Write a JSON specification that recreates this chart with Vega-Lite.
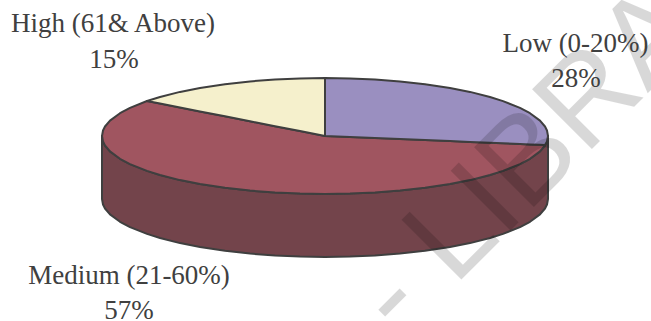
{
  "$schema": "https://vega.github.io/schema/vega-lite/v6.json",
  "width": 651,
  "height": 321,
  "autosize": {"type": "none"},
  "padding": 0,
  "background": "#ffffff",
  "view": {"stroke": null},
  "datasets": {
    "outline": [
      {"part":"wall","x":102,"y":136,"y2":199},{"part":"wall","x":103,"y":141.5,"y2":204.5},{"part":"wall","x":105,"y":145.5,"y2":208.5},{"part":"wall","x":110,"y":151.4,"y2":214.4},{"part":"wall","x":120,"y":158.8,"y2":221.8},{"part":"wall","x":130,"y":164.1,"y2":227.1},{"part":"wall","x":147,"y":170.9,"y2":233.9},{"part":"wall","x":160,"y":175,"y2":238},{"part":"wall","x":180,"y":180.1,"y2":243.1},{"part":"wall","x":200,"y":184,"y2":247},{"part":"wall","x":225,"y":187.8,"y2":250.8},{"part":"wall","x":250,"y":190.6,"y2":253.6},{"part":"wall","x":275,"y":192.5,"y2":255.5},{"part":"wall","x":300,"y":193.6,"y2":256.6},{"part":"wall","x":325,"y":194,"y2":257},{"part":"wall","x":350,"y":193.6,"y2":256.6},{"part":"wall","x":375,"y":192.5,"y2":255.5},{"part":"wall","x":400,"y":190.6,"y2":253.6},{"part":"wall","x":425,"y":187.8,"y2":250.8},{"part":"wall","x":450,"y":184,"y2":247},{"part":"wall","x":470,"y":180.1,"y2":243.1},{"part":"wall","x":490,"y":175,"y2":238},{"part":"wall","x":503,"y":170.9,"y2":233.9},{"part":"wall","x":520,"y":164.1,"y2":227.1},{"part":"wall","x":530,"y":158.8,"y2":221.8},{"part":"wall","x":540,"y":151.4,"y2":214.4},{"part":"wall","x":545,"y":145.5,"y2":208.5},{"part":"wall","x":547,"y":141.5,"y2":204.5},{"part":"wall","x":548,"y":136,"y2":199},

      {"part":"Medium","x":102,"y":136,"y2":136},{"part":"Medium","x":103,"y":130.5,"y2":141.5},{"part":"Medium","x":105,"y":126.5,"y2":145.5},{"part":"Medium","x":110,"y":120.6,"y2":151.4},{"part":"Medium","x":120,"y":113.2,"y2":158.8},{"part":"Medium","x":130,"y":107.9,"y2":164.1},{"part":"Medium","x":147,"y":101,"y2":170.9},{"part":"Medium","x":160,"y":103.6,"y2":175},{"part":"Medium","x":180,"y":107.5,"y2":180.1},{"part":"Medium","x":200,"y":111.4,"y2":184},{"part":"Medium","x":225,"y":116.3,"y2":187.8},{"part":"Medium","x":250,"y":121.3,"y2":190.6},{"part":"Medium","x":275,"y":126.2,"y2":192.5},{"part":"Medium","x":300,"y":131.1,"y2":193.6},{"part":"Medium","x":325,"y":136,"y2":194},{"part":"Medium","x":350,"y":137,"y2":193.6},{"part":"Medium","x":375,"y":138,"y2":192.5},{"part":"Medium","x":400,"y":139.1,"y2":190.6},{"part":"Medium","x":425,"y":140.1,"y2":187.8},{"part":"Medium","x":450,"y":141.1,"y2":184},{"part":"Medium","x":470,"y":141.9,"y2":180.1},{"part":"Medium","x":490,"y":142.8,"y2":175},{"part":"Medium","x":503,"y":143.3,"y2":170.9},{"part":"Medium","x":520,"y":144,"y2":164.1},{"part":"Medium","x":530,"y":144.4,"y2":158.8},{"part":"Medium","x":540,"y":144.8,"y2":151.4},{"part":"Medium","x":545,"y":145,"y2":145.5},

      {"part":"Low","x":325,"y":78,"y2":136},{"part":"Low","x":350,"y":78.4,"y2":137},{"part":"Low","x":375,"y":79.5,"y2":138},{"part":"Low","x":400,"y":81.4,"y2":139.1},{"part":"Low","x":425,"y":84.2,"y2":140.1},{"part":"Low","x":450,"y":88,"y2":141.1},{"part":"Low","x":470,"y":91.9,"y2":141.9},{"part":"Low","x":490,"y":97,"y2":142.8},{"part":"Low","x":503,"y":101.1,"y2":143.3},{"part":"Low","x":520,"y":107.9,"y2":144},{"part":"Low","x":530,"y":113.2,"y2":144.4},{"part":"Low","x":540,"y":120.6,"y2":144.8},{"part":"Low","x":545,"y":126.5,"y2":145},{"part":"Low","x":547,"y":130.5,"y2":141.5},{"part":"Low","x":548,"y":136,"y2":136},

      {"part":"High","x":147,"y":101,"y2":101},{"part":"High","x":160,"y":97,"y2":103.6},{"part":"High","x":180,"y":91.9,"y2":107.5},{"part":"High","x":200,"y":88,"y2":111.4},{"part":"High","x":225,"y":84.2,"y2":116.3},{"part":"High","x":250,"y":81.4,"y2":121.3},{"part":"High","x":275,"y":79.5,"y2":126.2},{"part":"High","x":300,"y":78.4,"y2":131.1},{"part":"High","x":325,"y":78,"y2":136}
    ],
    "labels": [
      {"text":"High (61& Above)","x":113,"y":32},
      {"text":"15%","x":114,"y":68},
      {"text":"Low (0-20%)","x":575.5,"y":52},
      {"text":"28%","x":576,"y":87},
      {"text":"Medium (21-60%)","x":129,"y":284},
      {"text":"57%","x":129,"y":319}
    ],
    "stamp": [
      {"text":"- LIBRA","x":401,"y":340}
    ]
  },
  "layer": [
    {
      "data": {"name": "outline"},
      "mark": {"type": "area", "stroke": "#3f3f3f", "strokeWidth": 2, "strokeJoin": "round", "opacity": 1},
      "encoding": {
        "x": {"field": "x", "type": "quantitative", "scale": {"domain": [0, 651], "nice": false, "zero": false}, "axis": null},
        "y": {"field": "y", "type": "quantitative", "stack": null, "scale": {"domain": [321, 0], "nice": false, "zero": false}, "axis": null},
        "y2": {"field": "y2"},
        "fill": {
          "field": "part", "type": "nominal", "legend": null,
          "scale": {"domain": ["wall", "Medium", "Low", "High"], "range": ["#73444b", "#a05560", "#9a8fc0", "#f5f0cc"]}
        }
      }
    },
    {
      "data": {"name": "stamp"},
      "mark": {"type": "text", "font": "Liberation Sans", "fontSize": 123, "angle": -45, "align": "left", "baseline": "alphabetic", "color": "#000000", "opacity": 0.15},
      "encoding": {
        "x": {"field": "x", "type": "quantitative", "scale": {"domain": [0, 651], "nice": false, "zero": false}, "axis": null},
        "y": {"field": "y", "type": "quantitative", "scale": {"domain": [321, 0], "nice": false, "zero": false}, "axis": null},
        "text": {"field": "text"}
      }
    },
    {
      "data": {"name": "labels"},
      "mark": {"type": "text", "font": "Liberation Serif", "fontSize": 27, "align": "center", "baseline": "alphabetic", "color": "#404040"},
      "encoding": {
        "x": {"field": "x", "type": "quantitative", "scale": {"domain": [0, 651], "nice": false, "zero": false}, "axis": null},
        "y": {"field": "y", "type": "quantitative", "scale": {"domain": [321, 0], "nice": false, "zero": false}, "axis": null},
        "text": {"field": "text"}
      }
    }
  ]
}
